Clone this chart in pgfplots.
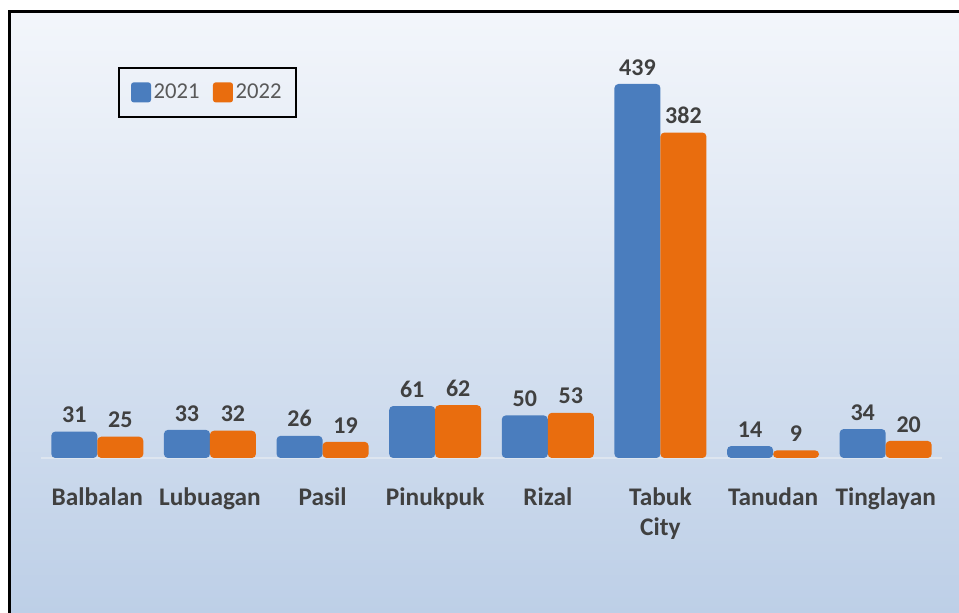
\documentclass[border=0pt]{standalone}
\usepackage{pgfplots}
\pgfplotsset{compat=1.18}
\usepackage{fontspec}
\setmainfont{Carlito}
\definecolor{b1}{HTML}{4A7DBE}
\definecolor{o1}{HTML}{E96D0E}
\definecolor{lab}{HTML}{404040}
\definecolor{leg}{HTML}{595959}
\definecolor{bgtop}{HTML}{F3F6FB}
\definecolor{bgbot}{HTML}{BDCFE7}
\definecolor{base}{HTML}{DDE5EF}
\begin{document}
\begin{tikzpicture}[x=0.75pt,y=0.75pt]
\useasboundingbox (0,0) rectangle (959,613);
\fill[white] (0,0) rectangle (959,613);
\shade[top color=bgtop, bottom color=bgbot] (11,0) rectangle (959,601);
\draw[line width=2.25pt] (9.5,0) -- (9.5,601.5) -- (959,601.5);
\begin{axis}[
  at={(30.75pt,116.25pt)}, anchor=south west,
  scale only axis, width=675.75pt, height=313.1pt,
  ybar=0pt, bar width=34.5pt,
  ymin=0, ymax=490, xmin=-0.5, xmax=7.5,
  xtick={0,...,7},
  xticklabels={Balbalan,Lubuagan,Pasil,Pinukpuk,Rizal,{Tabuk\\City},Tanudan,Tinglayan},
  x tick label style={font=\fontsize{19}{22.5}\selectfont\bfseries, text=lab, align=center, yshift=-18.5pt},
  major tick length=0pt,
  hide y axis,
  axis x line*=bottom,
  x axis line style={-, draw=base, line width=1.5pt},
  clip=false,
  /pgf/number format/assume math mode=true,
  nodes near coords,
  nodes near coords style={font=\fontsize{18}{20}\selectfont\bfseries, text=lab, yshift=3pt},
  legend columns=2,
  legend image code/.code={\fill[#1,rounded corners=2pt] (0pt,-7.5pt) rectangle (15pt,7.5pt);},
  legend style={at={(0.0855,0.9365)}, anchor=north west, draw=black, line width=1.5pt, fill=none,
    font=\fontsize{17}{20}\selectfont, text=leg, inner xsep=9pt, inner ysep=10pt,
    nodes={inner xsep=2pt},
    /tikz/every even column/.append style={column sep=8pt}},
]
\addplot[fill=b1, draw=none, rounded corners=3pt] coordinates {(0,31) (1,33) (2,26) (3,61) (4,50) (5,439) (6,14) (7,34)};
\addplot[fill=o1, draw=none, rounded corners=3pt] coordinates {(0,25) (1,32) (2,19) (3,62) (4,53) (5,382) (6,9) (7,20)};
\legend{2021,2022}
\end{axis}
\end{tikzpicture}
\end{document}
